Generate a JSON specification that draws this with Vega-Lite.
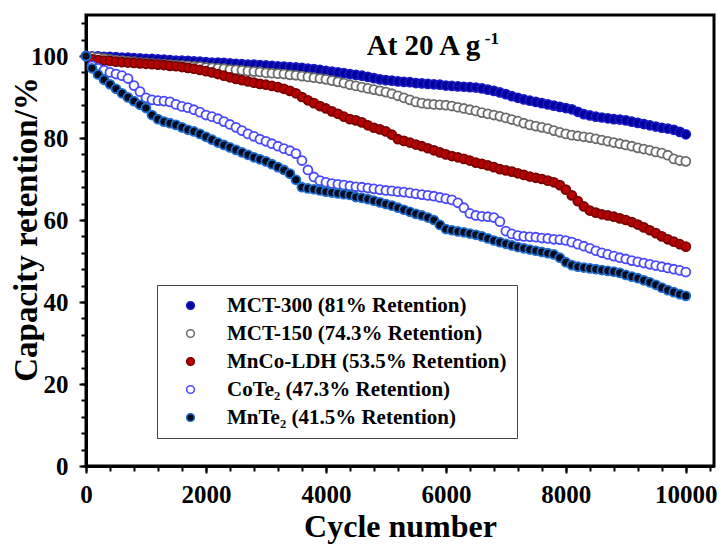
{
"$schema": "https://vega.github.io/schema/vega-lite/v6.json",
"width": 628, "height": 451, "autosize": "none",
"padding": {"left": 86, "top": 15, "right": 7, "bottom": 80},
"background": "white",
"config": {"view": {"stroke": "black", "strokeWidth": 3}},
"datasets": {"pts": [
{"s":"a","c":0,"r":100},{"s":"a","c":100,"r":99.9},{"s":"a","c":200,"r":99.9},{"s":"a","c":300,"r":99.8},{"s":"a","c":400,"r":99.8},{"s":"a","c":500,"r":99.7},{"s":"a","c":600,"r":99.6},{"s":"a","c":700,"r":99.6},{"s":"a","c":800,"r":99.5},{"s":"a","c":900,"r":99.4},{"s":"a","c":1000,"r":99.3},
{"s":"a","c":1100,"r":99.3},{"s":"a","c":1200,"r":99.2},{"s":"a","c":1300,"r":99.1},{"s":"a","c":1400,"r":99.0},{"s":"a","c":1500,"r":98.9},{"s":"a","c":1600,"r":98.9},{"s":"a","c":1700,"r":98.8},{"s":"a","c":1800,"r":98.7},{"s":"a","c":1900,"r":98.6},{"s":"a","c":2000,"r":98.5},
{"s":"a","c":2100,"r":98.4},{"s":"a","c":2200,"r":98.4},{"s":"a","c":2300,"r":98.3},{"s":"a","c":2400,"r":98.2},{"s":"a","c":2500,"r":98.1},{"s":"a","c":2600,"r":98.0},{"s":"a","c":2700,"r":97.9},{"s":"a","c":2800,"r":97.9},{"s":"a","c":2900,"r":97.8},{"s":"a","c":3000,"r":97.7},
{"s":"a","c":3100,"r":97.6},{"s":"a","c":3200,"r":97.5},{"s":"a","c":3300,"r":97.4},{"s":"a","c":3400,"r":97.3},{"s":"a","c":3500,"r":97.2},{"s":"a","c":3600,"r":97.1},{"s":"a","c":3700,"r":96.9},{"s":"a","c":3800,"r":96.8},{"s":"a","c":3900,"r":96.6},{"s":"a","c":4000,"r":96.4},
{"s":"a","c":4100,"r":96.2},{"s":"a","c":4200,"r":96.0},{"s":"a","c":4300,"r":95.8},{"s":"a","c":4400,"r":95.6},{"s":"a","c":4500,"r":95.4},{"s":"a","c":4600,"r":95.2},{"s":"a","c":4700,"r":94.9},{"s":"a","c":4800,"r":94.6},{"s":"a","c":4900,"r":94.3},{"s":"a","c":5000,"r":94.1},
{"s":"a","c":5100,"r":94.0},{"s":"a","c":5200,"r":93.8},{"s":"a","c":5300,"r":93.7},{"s":"a","c":5400,"r":93.6},{"s":"a","c":5500,"r":93.4},{"s":"a","c":5600,"r":93.3},{"s":"a","c":5700,"r":93.2},{"s":"a","c":5800,"r":93.1},{"s":"a","c":5900,"r":93.0},{"s":"a","c":6000,"r":92.8},
{"s":"a","c":6100,"r":92.7},{"s":"a","c":6200,"r":92.6},{"s":"a","c":6300,"r":92.5},{"s":"a","c":6400,"r":92.4},{"s":"a","c":6500,"r":92.3},{"s":"a","c":6600,"r":92.1},{"s":"a","c":6700,"r":91.8},{"s":"a","c":6800,"r":91.5},{"s":"a","c":6900,"r":91.1},{"s":"a","c":7000,"r":90.7},
{"s":"a","c":7100,"r":90.2},{"s":"a","c":7200,"r":89.8},{"s":"a","c":7300,"r":89.4},{"s":"a","c":7400,"r":89.1},{"s":"a","c":7500,"r":88.8},{"s":"a","c":7600,"r":88.5},{"s":"a","c":7700,"r":88.2},{"s":"a","c":7800,"r":87.9},{"s":"a","c":7900,"r":87.6},{"s":"a","c":8000,"r":87.3},
{"s":"a","c":8100,"r":87.0},{"s":"a","c":8200,"r":86.4},{"s":"a","c":8300,"r":85.8},{"s":"a","c":8400,"r":85.5},{"s":"a","c":8500,"r":85.2},{"s":"a","c":8600,"r":85.0},{"s":"a","c":8700,"r":84.8},{"s":"a","c":8800,"r":84.6},{"s":"a","c":8900,"r":84.5},{"s":"a","c":9000,"r":84.3},
{"s":"a","c":9100,"r":84.0},{"s":"a","c":9200,"r":83.7},{"s":"a","c":9300,"r":83.4},{"s":"a","c":9400,"r":83.1},{"s":"a","c":9500,"r":82.8},{"s":"a","c":9600,"r":82.5},{"s":"a","c":9700,"r":82.3},{"s":"a","c":9800,"r":82.0},{"s":"a","c":9900,"r":81.5},{"s":"a","c":10000,"r":80.9},
{"s":"b","c":0,"r":100},{"s":"b","c":100,"r":99.8},{"s":"b","c":200,"r":99.6},{"s":"b","c":300,"r":99.4},{"s":"b","c":400,"r":99.2},{"s":"b","c":500,"r":99.0},{"s":"b","c":600,"r":98.9},{"s":"b","c":700,"r":98.7},{"s":"b","c":800,"r":98.6},{"s":"b","c":900,"r":98.4},{"s":"b","c":1000,"r":98.3},
{"s":"b","c":1100,"r":98.2},{"s":"b","c":1200,"r":98.1},{"s":"b","c":1300,"r":98.0},{"s":"b","c":1400,"r":97.9},{"s":"b","c":1500,"r":97.8},{"s":"b","c":1600,"r":97.7},{"s":"b","c":1700,"r":97.6},{"s":"b","c":1800,"r":97.5},{"s":"b","c":1900,"r":97.4},{"s":"b","c":2000,"r":97.2},
{"s":"b","c":2100,"r":97.1},{"s":"b","c":2200,"r":97.0},{"s":"b","c":2300,"r":96.9},{"s":"b","c":2400,"r":96.7},{"s":"b","c":2500,"r":96.6},{"s":"b","c":2600,"r":96.5},{"s":"b","c":2700,"r":96.3},{"s":"b","c":2800,"r":96.2},{"s":"b","c":2900,"r":96.1},{"s":"b","c":3000,"r":95.9},
{"s":"b","c":3100,"r":95.8},{"s":"b","c":3200,"r":95.7},{"s":"b","c":3300,"r":95.6},{"s":"b","c":3400,"r":95.4},{"s":"b","c":3500,"r":95.3},{"s":"b","c":3600,"r":95.1},{"s":"b","c":3700,"r":94.9},{"s":"b","c":3800,"r":94.7},{"s":"b","c":3900,"r":94.5},{"s":"b","c":4000,"r":94.3},
{"s":"b","c":4100,"r":94.0},{"s":"b","c":4200,"r":93.7},{"s":"b","c":4300,"r":93.4},{"s":"b","c":4400,"r":93.0},{"s":"b","c":4500,"r":92.7},{"s":"b","c":4600,"r":92.4},{"s":"b","c":4700,"r":92.1},{"s":"b","c":4800,"r":91.8},{"s":"b","c":4900,"r":91.5},{"s":"b","c":5000,"r":91.2},
{"s":"b","c":5100,"r":90.8},{"s":"b","c":5200,"r":90.3},{"s":"b","c":5300,"r":89.8},{"s":"b","c":5400,"r":89.3},{"s":"b","c":5500,"r":88.8},{"s":"b","c":5600,"r":88.5},{"s":"b","c":5700,"r":88.3},{"s":"b","c":5800,"r":88.2},{"s":"b","c":5900,"r":88.1},{"s":"b","c":6000,"r":88.0},
{"s":"b","c":6100,"r":87.8},{"s":"b","c":6200,"r":87.5},{"s":"b","c":6300,"r":87.2},{"s":"b","c":6400,"r":86.9},{"s":"b","c":6500,"r":86.6},{"s":"b","c":6600,"r":86.2},{"s":"b","c":6700,"r":85.9},{"s":"b","c":6800,"r":85.6},{"s":"b","c":6900,"r":85.3},{"s":"b","c":7000,"r":84.9},
{"s":"b","c":7100,"r":84.5},{"s":"b","c":7200,"r":84.1},{"s":"b","c":7300,"r":83.6},{"s":"b","c":7400,"r":83.2},{"s":"b","c":7500,"r":82.9},{"s":"b","c":7600,"r":82.6},{"s":"b","c":7700,"r":82.3},{"s":"b","c":7800,"r":81.8},{"s":"b","c":7900,"r":81.4},{"s":"b","c":8000,"r":81.0},
{"s":"b","c":8100,"r":80.7},{"s":"b","c":8200,"r":80.5},{"s":"b","c":8300,"r":80.3},{"s":"b","c":8400,"r":80.1},{"s":"b","c":8500,"r":79.8},{"s":"b","c":8600,"r":79.5},{"s":"b","c":8700,"r":79.2},{"s":"b","c":8800,"r":78.9},{"s":"b","c":8900,"r":78.6},{"s":"b","c":9000,"r":78.3},
{"s":"b","c":9100,"r":78.0},{"s":"b","c":9200,"r":77.6},{"s":"b","c":9300,"r":77.3},{"s":"b","c":9400,"r":77.0},{"s":"b","c":9500,"r":76.6},{"s":"b","c":9600,"r":76.3},{"s":"b","c":9700,"r":75.8},{"s":"b","c":9800,"r":74.9},{"s":"b","c":9900,"r":74.5},{"s":"b","c":10000,"r":74.3},
{"s":"m","c":0,"r":100},{"s":"m","c":100,"r":99.2},{"s":"m","c":200,"r":99.0},{"s":"m","c":300,"r":98.9},{"s":"m","c":400,"r":98.8},{"s":"m","c":500,"r":98.6},{"s":"m","c":600,"r":98.5},{"s":"m","c":700,"r":98.4},{"s":"m","c":800,"r":98.3},{"s":"m","c":900,"r":98.2},{"s":"m","c":1000,"r":98.1},
{"s":"m","c":1100,"r":98.0},{"s":"m","c":1200,"r":97.9},{"s":"m","c":1300,"r":97.8},{"s":"m","c":1400,"r":97.6},{"s":"m","c":1500,"r":97.5},{"s":"m","c":1600,"r":97.3},{"s":"m","c":1700,"r":97.1},{"s":"m","c":1800,"r":96.9},{"s":"m","c":1900,"r":96.6},{"s":"m","c":2000,"r":96.3},
{"s":"m","c":2100,"r":96.0},{"s":"m","c":2200,"r":95.6},{"s":"m","c":2300,"r":95.2},{"s":"m","c":2400,"r":94.8},{"s":"m","c":2500,"r":94.4},{"s":"m","c":2600,"r":94.1},{"s":"m","c":2700,"r":93.8},{"s":"m","c":2800,"r":93.5},{"s":"m","c":2900,"r":93.2},{"s":"m","c":3000,"r":93.0},
{"s":"m","c":3100,"r":92.7},{"s":"m","c":3200,"r":92.4},{"s":"m","c":3300,"r":92.0},{"s":"m","c":3400,"r":91.5},{"s":"m","c":3500,"r":90.9},{"s":"m","c":3600,"r":90.0},{"s":"m","c":3700,"r":89.2},{"s":"m","c":3800,"r":88.5},{"s":"m","c":3900,"r":87.8},{"s":"m","c":4000,"r":87.2},
{"s":"m","c":4100,"r":86.5},{"s":"m","c":4200,"r":85.9},{"s":"m","c":4300,"r":85.2},{"s":"m","c":4400,"r":84.6},{"s":"m","c":4500,"r":84.3},{"s":"m","c":4600,"r":83.8},{"s":"m","c":4700,"r":83.1},{"s":"m","c":4800,"r":82.5},{"s":"m","c":4900,"r":82.1},{"s":"m","c":5000,"r":81.6},
{"s":"m","c":5100,"r":80.8},{"s":"m","c":5200,"r":79.7},{"s":"m","c":5300,"r":79.3},{"s":"m","c":5400,"r":78.9},{"s":"m","c":5500,"r":78.4},{"s":"m","c":5600,"r":78.0},{"s":"m","c":5700,"r":77.5},{"s":"m","c":5800,"r":77.0},{"s":"m","c":5900,"r":76.5},{"s":"m","c":6000,"r":76.0},
{"s":"m","c":6100,"r":75.6},{"s":"m","c":6200,"r":75.3},{"s":"m","c":6300,"r":74.9},{"s":"m","c":6400,"r":74.5},{"s":"m","c":6500,"r":74.0},{"s":"m","c":6600,"r":73.7},{"s":"m","c":6700,"r":73.3},{"s":"m","c":6800,"r":72.9},{"s":"m","c":6900,"r":72.4},{"s":"m","c":7000,"r":72.1},
{"s":"m","c":7100,"r":71.8},{"s":"m","c":7200,"r":71.4},{"s":"m","c":7300,"r":71.0},{"s":"m","c":7400,"r":70.6},{"s":"m","c":7500,"r":70.3},{"s":"m","c":7600,"r":70.0},{"s":"m","c":7700,"r":69.6},{"s":"m","c":7800,"r":69.2},{"s":"m","c":7900,"r":68.5},{"s":"m","c":8000,"r":67.4},
{"s":"m","c":8100,"r":66.0},{"s":"m","c":8200,"r":64.6},{"s":"m","c":8300,"r":63.3},{"s":"m","c":8400,"r":62.3},{"s":"m","c":8500,"r":61.8},{"s":"m","c":8600,"r":61.4},{"s":"m","c":8700,"r":61.1},{"s":"m","c":8800,"r":60.8},{"s":"m","c":8900,"r":60.4},{"s":"m","c":9000,"r":60.0},
{"s":"m","c":9100,"r":59.5},{"s":"m","c":9200,"r":58.9},{"s":"m","c":9300,"r":58.2},{"s":"m","c":9400,"r":57.5},{"s":"m","c":9500,"r":56.8},{"s":"m","c":9600,"r":56.0},{"s":"m","c":9700,"r":55.3},{"s":"m","c":9800,"r":54.7},{"s":"m","c":9900,"r":54.1},{"s":"m","c":10000,"r":53.5},
{"s":"t","c":0,"r":100},{"s":"t","c":100,"r":97.6},{"s":"t","c":200,"r":97.0},{"s":"t","c":300,"r":96.5},{"s":"t","c":400,"r":96.0},{"s":"t","c":500,"r":95.6},{"s":"t","c":600,"r":95.2},{"s":"t","c":700,"r":94.5},{"s":"t","c":800,"r":92.8},{"s":"t","c":900,"r":91.3},{"s":"t","c":1000,"r":89.8},
{"s":"t","c":1100,"r":89.3},{"s":"t","c":1200,"r":89.1},{"s":"t","c":1300,"r":89.0},{"s":"t","c":1400,"r":88.8},{"s":"t","c":1500,"r":88.2},{"s":"t","c":1600,"r":87.7},{"s":"t","c":1700,"r":87.4},{"s":"t","c":1800,"r":86.9},{"s":"t","c":1900,"r":86.3},{"s":"t","c":2000,"r":85.6},
{"s":"t","c":2100,"r":85.2},{"s":"t","c":2200,"r":84.7},{"s":"t","c":2300,"r":84.0},{"s":"t","c":2400,"r":83.3},{"s":"t","c":2500,"r":82.6},{"s":"t","c":2600,"r":81.8},{"s":"t","c":2700,"r":81.0},{"s":"t","c":2800,"r":80.4},{"s":"t","c":2900,"r":79.7},{"s":"t","c":3000,"r":79.2},
{"s":"t","c":3100,"r":78.6},{"s":"t","c":3200,"r":78.0},{"s":"t","c":3300,"r":77.4},{"s":"t","c":3400,"r":76.9},{"s":"t","c":3500,"r":76.2},{"s":"t","c":3600,"r":74.5},{"s":"t","c":3700,"r":72.2},{"s":"t","c":3800,"r":70.5},{"s":"t","c":3900,"r":69.6},{"s":"t","c":4000,"r":69.2},
{"s":"t","c":4100,"r":68.9},{"s":"t","c":4200,"r":68.7},{"s":"t","c":4300,"r":68.5},{"s":"t","c":4400,"r":68.3},{"s":"t","c":4500,"r":68.1},{"s":"t","c":4600,"r":68.0},{"s":"t","c":4700,"r":67.8},{"s":"t","c":4800,"r":67.6},{"s":"t","c":4900,"r":67.4},{"s":"t","c":5000,"r":67.2},
{"s":"t","c":5100,"r":67.1},{"s":"t","c":5200,"r":66.9},{"s":"t","c":5300,"r":66.8},{"s":"t","c":5400,"r":66.6},{"s":"t","c":5500,"r":66.4},{"s":"t","c":5600,"r":66.2},{"s":"t","c":5700,"r":66.0},{"s":"t","c":5800,"r":65.8},{"s":"t","c":5900,"r":65.5},{"s":"t","c":6000,"r":65.2},
{"s":"t","c":6100,"r":64.9},{"s":"t","c":6200,"r":64.2},{"s":"t","c":6300,"r":63.0},{"s":"t","c":6400,"r":61.6},{"s":"t","c":6500,"r":61.1},{"s":"t","c":6600,"r":60.9},{"s":"t","c":6700,"r":60.8},{"s":"t","c":6800,"r":60.6},{"s":"t","c":6900,"r":59.6},{"s":"t","c":7000,"r":57.3},
{"s":"t","c":7100,"r":56.6},{"s":"t","c":7200,"r":56.2},{"s":"t","c":7300,"r":56.0},{"s":"t","c":7400,"r":55.9},{"s":"t","c":7500,"r":55.8},{"s":"t","c":7600,"r":55.6},{"s":"t","c":7700,"r":55.5},{"s":"t","c":7800,"r":55.3},{"s":"t","c":7900,"r":55.2},{"s":"t","c":8000,"r":55.0},
{"s":"t","c":8100,"r":54.6},{"s":"t","c":8200,"r":54.1},{"s":"t","c":8300,"r":53.6},{"s":"t","c":8400,"r":53.1},{"s":"t","c":8500,"r":52.5},{"s":"t","c":8600,"r":52.0},{"s":"t","c":8700,"r":51.6},{"s":"t","c":8800,"r":51.2},{"s":"t","c":8900,"r":50.8},{"s":"t","c":9000,"r":50.5},
{"s":"t","c":9100,"r":50.1},{"s":"t","c":9200,"r":49.8},{"s":"t","c":9300,"r":49.5},{"s":"t","c":9400,"r":49.2},{"s":"t","c":9500,"r":48.9},{"s":"t","c":9600,"r":48.6},{"s":"t","c":9700,"r":48.3},{"s":"t","c":9800,"r":48.0},{"s":"t","c":9900,"r":47.7},{"s":"t","c":10000,"r":47.3},
{"s":"n","c":0,"r":100},{"s":"n","c":100,"r":97.0},{"s":"n","c":200,"r":95.5},{"s":"n","c":300,"r":94.2},{"s":"n","c":400,"r":93.1},{"s":"n","c":500,"r":92.0},{"s":"n","c":600,"r":90.9},{"s":"n","c":700,"r":89.9},{"s":"n","c":800,"r":89.0},{"s":"n","c":900,"r":88.1},{"s":"n","c":1000,"r":87.3},
{"s":"n","c":1100,"r":85.6},{"s":"n","c":1200,"r":84.6},{"s":"n","c":1300,"r":84.0},{"s":"n","c":1400,"r":83.6},{"s":"n","c":1500,"r":83.2},{"s":"n","c":1600,"r":82.6},{"s":"n","c":1700,"r":82.0},{"s":"n","c":1800,"r":81.6},{"s":"n","c":1900,"r":81.0},{"s":"n","c":2000,"r":80.3},
{"s":"n","c":2100,"r":79.6},{"s":"n","c":2200,"r":78.9},{"s":"n","c":2300,"r":78.3},{"s":"n","c":2400,"r":77.7},{"s":"n","c":2500,"r":77.1},{"s":"n","c":2600,"r":76.5},{"s":"n","c":2700,"r":75.9},{"s":"n","c":2800,"r":75.3},{"s":"n","c":2900,"r":74.8},{"s":"n","c":3000,"r":74.3},
{"s":"n","c":3100,"r":73.6},{"s":"n","c":3200,"r":72.9},{"s":"n","c":3300,"r":72.2},{"s":"n","c":3400,"r":71.3},{"s":"n","c":3500,"r":69.8},{"s":"n","c":3600,"r":68.0},{"s":"n","c":3700,"r":67.7},{"s":"n","c":3800,"r":67.5},{"s":"n","c":3900,"r":67.2},{"s":"n","c":4000,"r":66.9},
{"s":"n","c":4100,"r":66.7},{"s":"n","c":4200,"r":66.5},{"s":"n","c":4300,"r":66.3},{"s":"n","c":4400,"r":66.1},{"s":"n","c":4500,"r":65.6},{"s":"n","c":4600,"r":65.4},{"s":"n","c":4700,"r":65.1},{"s":"n","c":4800,"r":64.7},{"s":"n","c":4900,"r":64.3},{"s":"n","c":5000,"r":63.9},
{"s":"n","c":5100,"r":63.5},{"s":"n","c":5200,"r":63.0},{"s":"n","c":5300,"r":62.5},{"s":"n","c":5400,"r":62.0},{"s":"n","c":5500,"r":61.5},{"s":"n","c":5600,"r":61.1},{"s":"n","c":5700,"r":60.6},{"s":"n","c":5800,"r":60.0},{"s":"n","c":5900,"r":58.8},{"s":"n","c":6000,"r":57.8},
{"s":"n","c":6100,"r":57.5},{"s":"n","c":6200,"r":57.2},{"s":"n","c":6300,"r":57.0},{"s":"n","c":6400,"r":56.7},{"s":"n","c":6500,"r":56.4},{"s":"n","c":6600,"r":56.0},{"s":"n","c":6700,"r":55.5},{"s":"n","c":6800,"r":55.0},{"s":"n","c":6900,"r":54.6},{"s":"n","c":7000,"r":54.2},
{"s":"n","c":7100,"r":53.8},{"s":"n","c":7200,"r":53.4},{"s":"n","c":7300,"r":53.1},{"s":"n","c":7400,"r":52.8},{"s":"n","c":7500,"r":52.5},{"s":"n","c":7600,"r":52.2},{"s":"n","c":7700,"r":51.9},{"s":"n","c":7800,"r":51.6},{"s":"n","c":7900,"r":50.8},{"s":"n","c":8000,"r":49.7},
{"s":"n","c":8100,"r":49.0},{"s":"n","c":8200,"r":48.6},{"s":"n","c":8300,"r":48.4},{"s":"n","c":8400,"r":48.2},{"s":"n","c":8500,"r":48.0},{"s":"n","c":8600,"r":47.8},{"s":"n","c":8700,"r":47.6},{"s":"n","c":8800,"r":47.4},{"s":"n","c":8900,"r":47.1},{"s":"n","c":9000,"r":46.6},
{"s":"n","c":9100,"r":46.2},{"s":"n","c":9200,"r":45.8},{"s":"n","c":9300,"r":45.3},{"s":"n","c":9400,"r":44.8},{"s":"n","c":9500,"r":44.2},{"s":"n","c":9600,"r":43.5},{"s":"n","c":9700,"r":42.9},{"s":"n","c":9800,"r":42.4},{"s":"n","c":9900,"r":41.9},{"s":"n","c":10000,"r":41.5}
]},
"resolve": {"axis": {"x": "independent", "y": "independent"}},
"layer": [
{
"data": {"name": "pts"},
"mark": {"type": "point", "filled": true, "shape": "circle", "size": 80, "strokeWidth": 1.8, "opacity": 1},
"encoding": {
"x": {"field": "c", "type": "quantitative",
 "scale": {"domain": [0, 10470], "nice": false, "zero": false},
 "axis": {"orient": "bottom", "values": [0,2000,4000,6000,8000,10000], "format": "d",
  "tickSize": 7, "tickWidth": 2, "tickColor": "black", "domainColor": "black", "domainWidth": 3,
  "labelFont": "Liberation Serif", "labelFontWeight": "bold", "labelFontSize": 25, "labelColor": "black",
  "labelPadding": 9, "labelFlush": false, "labelOverlap": false, "grid": false,
  "title": "Cycle number", "titleFont": "Liberation Serif", "titleFontWeight": "bold", "titleFontSize": 32, "titleColor": "black",
  "titleY": 70, "titleBaseline": "alphabetic"}},
"y": {"field": "r", "type": "quantitative",
 "scale": {"domain": [0, 110], "nice": false},
 "axis": {"orient": "left", "values": [0,20,40,60,80,100], "format": "d",
  "tickSize": 7, "tickWidth": 2, "tickColor": "black", "domainColor": "black", "domainWidth": 3,
  "labelFont": "Liberation Serif", "labelFontWeight": "bold", "labelFontSize": 25, "labelColor": "black",
  "labelPadding": 11, "labelFlush": false, "labelOverlap": false, "grid": false,
  "title": "Capacity retention/%", "titleFont": "Liberation Serif", "titleFontWeight": "bold", "titleFontSize": 33, "titleColor": "black",
  "titleX": -50, "titleY": 214, "titleBaseline": "alphabetic", "titleAngle": -90, "titleAlign": "center"}},
"fill": {"field": "s", "type": "nominal",
 "scale": {"domain": ["a","b","m","t","n"], "range": ["#00009c", "#ffffff", "#b80000", "#ffffff", "#020a1e"]},
 "legend": {"orient": "none", "legendX": 71, "legendY": 270, "title": null, "padding": 10,
  "strokeColor": "#444444", "fillColor": "white", "symbolOffset": 13, "labelOffset": 26,
  "labelFont": "Liberation Serif", "labelFontSize": 21, "labelFontWeight": "bold", "labelColor": "black", "labelLimit": 500,
  "symbolSize": 60, "symbolStrokeWidth": 1.5, "symbolType": "circle", "rowPadding": 6,
  "labelExpr": "datum.label === 'a' ? 'MCT-300 (81% Retention)' : datum.label === 'b' ? 'MCT-150 (74.3% Retention)' : datum.label === 'm' ? 'MnCo-LDH (53.5% Retention)' : datum.label === 't' ? 'CoTe₂ (47.3% Retention)' : 'MnTe₂ (41.5% Retention)'"}},
"stroke": {"field": "s", "type": "nominal",
 "scale": {"domain": ["a","b","m","t","n"], "range": ["#1818c4", "#6b6b6b", "#7a0000", "#4848ff", "#1f6fd0"]}}
}
},
{
"data": {"values": [{}]},
"mark": {"type": "text", "align": "left", "baseline": "alphabetic", "font": "Liberation Serif", "fontWeight": "bold", "fontSize": 29, "color": "black"},
"encoding": {
 "x": {"datum": 4680, "type": "quantitative",
  "axis": {"orient": "bottom", "values": [0,400,800,1200,1600,2000,2400,2800,3200,3600,4000,4400,4800,5200,5600,6000,6400,6800,7200,7600,8000,8400,8800,9200,9600,10000,10400],
   "labels": false, "domain": false, "grid": false, "tickSize": 5, "tickWidth": 2, "tickColor": "black", "title": null}},
 "y": {"datum": 100.2, "type": "quantitative",
  "axis": {"orient": "left", "values": [0,4,8,12,16,20,24,28,32,36,40,44,48,52,56,60,64,68,72,76,80,84,88,92,96,100,104,108],
   "labels": false, "domain": false, "grid": false, "tickSize": 5, "tickWidth": 2, "tickColor": "black", "title": null}},
 "text": {"value": "At 20 A g"}}
},
{
"data": {"values": [{}]},
"mark": {"type": "text", "align": "left", "baseline": "alphabetic", "font": "Liberation Serif", "fontWeight": "bold", "fontSize": 17, "color": "black"},
"encoding": {
 "x": {"datum": 6650, "type": "quantitative", "axis": null},
 "y": {"datum": 102.9, "type": "quantitative", "axis": null},
 "text": {"value": "-1"}}
}
]
}
